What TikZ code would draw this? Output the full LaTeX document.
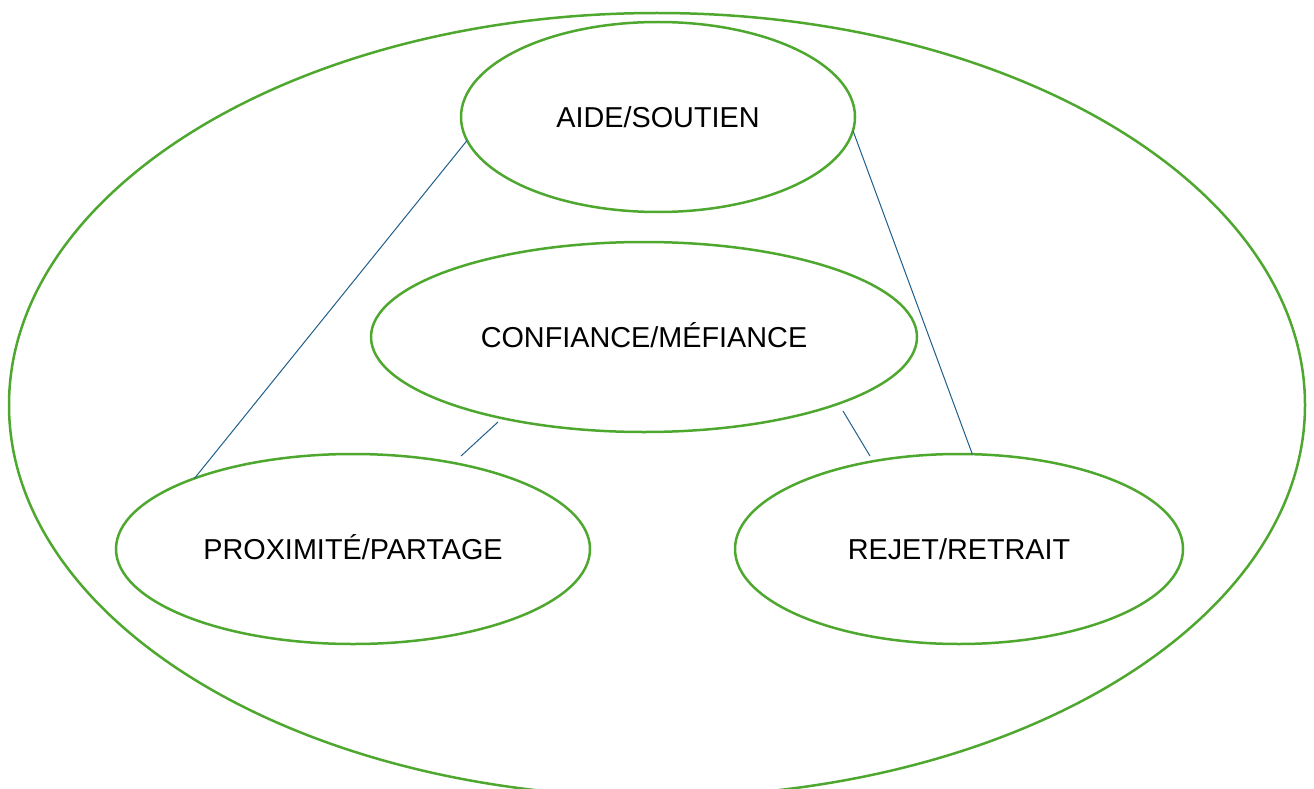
\documentclass[tikz,border=0pt]{standalone}
\usepackage{fontspec}
\setmainfont{Liberation Sans}
\usetikzlibrary{shapes.geometric}
\definecolor{ringgreen}{HTML}{4EA72E}
\definecolor{linkblue}{HTML}{1F5E8A}
\tikzset{
  oval/.style={ellipse, draw=ringgreen, line width=2.5pt, inner sep=0pt, outer sep=0pt,
    font=\fontsize{28.8}{31}\selectfont, text=black, text height=20.6pt, text depth=0pt},
  link/.style={draw=linkblue, line width=1pt}
}
\begin{document}
\begin{tikzpicture}[x=1pt,y=-1pt]
\useasboundingbox (0,0) rectangle (1314,789);
\clip (0,0) rectangle (1314,789);
\node[oval, minimum width=1296pt, minimum height=784pt] (outer) at (657,405) {};
\node[oval, minimum width=394pt, minimum height=190pt] (aide) at (658,117) {AIDE/SOUTIEN};
\node[oval, minimum width=546pt, minimum height=190pt] (conf) at (644,337) {CONFIANCE/MÉFIANCE};
\node[oval, minimum width=474pt, minimum height=190pt] (prox) at (353,549) {PROXIMITÉ/PARTAGE};
\node[oval, minimum width=448pt, minimum height=190pt] (rejet) at (959,549) {REJET/RETRAIT};
\coordinate (la) at (498,422);
\coordinate (lb) at (461,456);
\coordinate (ra) at (843,411);
\coordinate (rb) at (870,456);
\draw[link] (aide.187.8) -- (prox.156.4);
\draw[link] (aide.356.8) -- (rejet.82);
\draw[link] (la) -- (lb);
\draw[link] (ra) -- (rb);
\end{tikzpicture}
\end{document}
